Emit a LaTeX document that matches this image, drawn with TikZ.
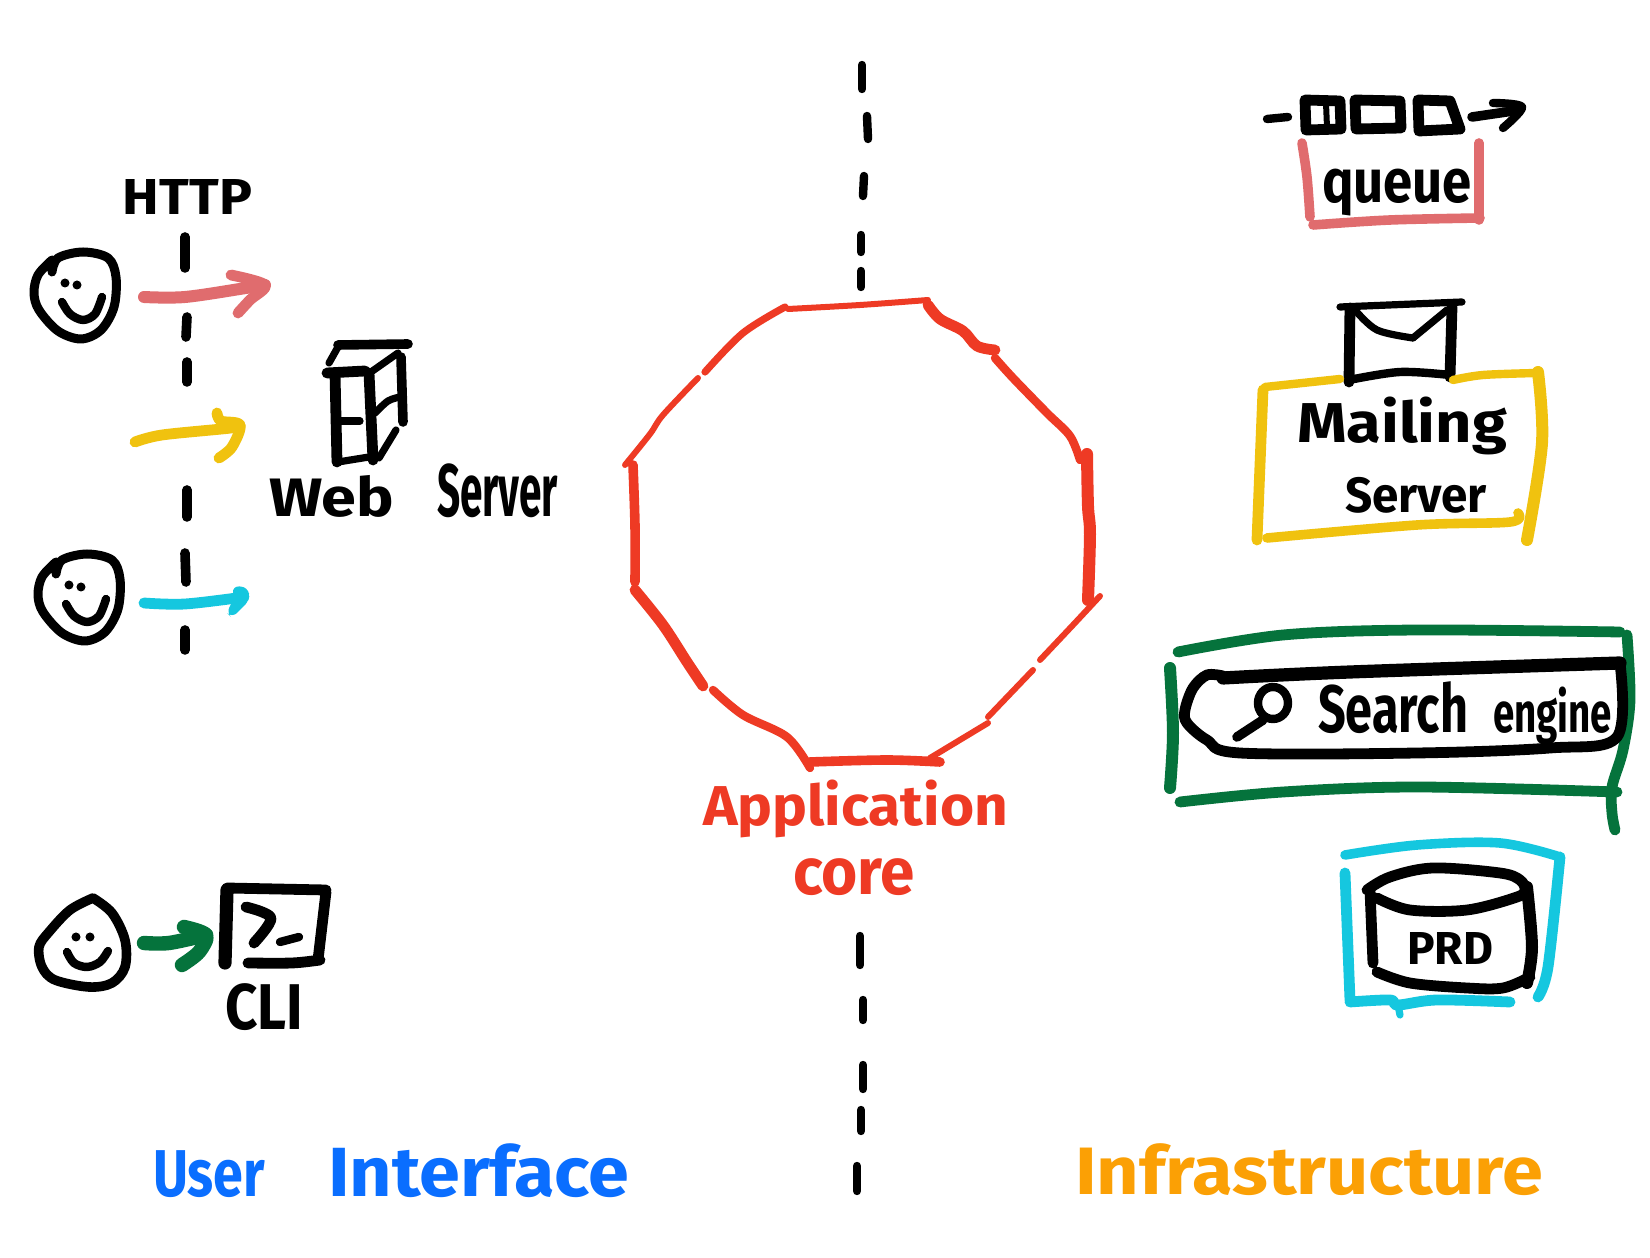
\documentclass[tikz,border=0pt]{standalone}
\usepackage{fontspec}
\usepackage{graphicx}
\setmainfont{Fira Sans}
\newlength{\pxu}\setlength{\pxu}{0.01cm}
\newcommand{\fitbox}[3]{\resizebox*{#1\pxu}{#2\pxu}{#3}}
\newcommand{\stroke}[2]{\draw[#1] plot[smooth,tension=.55] coordinates {#2};}
\definecolor{cpink}{HTML}{E06C6E}
\definecolor{cyellow}{HTML}{F0C20F}
\definecolor{ccyan}{HTML}{15C7DF}
\definecolor{cgreen}{HTML}{05733C}
\definecolor{cblue}{HTML}{0A6EFF}
\definecolor{corange}{HTML}{FBA005}
\definecolor{cred}{HTML}{EE3A24}
\tikzset{
  pen/.style={line cap=round,line join=round,line width=#1*0.012cm},
  pen/.default=8,
  ink/.style={pen=#1,black},
  ink/.default=8,
  hand/.style={inner sep=0pt,outer sep=0pt,anchor=base west,font=\bfseries},
  dashmark/.style={pen=8,black},
  midmark/.style={pen=7,black},
  ring/.style={pen=#1,cred},
  ring/.default=5,
  dot/.style={circle,fill=black,inner sep=0pt,minimum size=0.09cm}
}
\newcommand{\smiley}{%
  \stroke{ink=7.5}{(52,272)(58,258)(83,252)(108,258)(116,277)(114,307)(101,330)(81,339)(58,331)(39,310)(34,293)(38,275)(52,260)}
  \node[dot] at (65,283) {};
  \node[dot] at (77,285) {};
  \stroke{ink=7}{(62,302)(70,314)(83,320)(95,314)(102,297)}
}
\begin{document}
\begin{tikzpicture}[x=0.01cm,y=-0.01cm]
\useasboundingbox (0,0) rectangle (1650,1258);
\fill[white] (0,0) rectangle (1650,1258);

% central dashed divider
\foreach \a/\b in {{(862,65)}/{(862,89)},{(867,116)}/{(868,139)},{(864,176)}/{(863,196)},{(861,235)}/{(861,252)},{(861,271)}/{(861,287)},{(860,936)}/{(860,965)},{(863,1000)}/{(863,1020)},{(863,1065)}/{(863,1089)},{(861,1110)}/{(861,1131)},{(857,1166)}/{(857,1191)}}
  \draw[midmark] \a -- \b;

% left dashed divider
\foreach \a/\b in {{(185,237)}/{(185,268)},{(187,317)}/{(186,337)},{(187,362)}/{(187,382)},{(187,490)}/{(187,517)},{(185,553)}/{(186,582)},{(185,630)}/{(185,650)}}
  \draw[dashmark] \a -- \b;

% faces
\smiley
\begin{scope}[shift={(4,302)}]\smiley\end{scope}
\stroke{ink=8}{(93,898)(112,913)(125,940)(125,967)(112,983)(89,987)(55,980)(42,967)(39,947)(49,932)(70,910)(93,898)}
\node[dot] at (76,937) {};
\node[dot] at (90,937) {};
\stroke{ink=7}{(67,952)(74,963)(87,967)(100,962)(108,951)}

% arrows
\coordinate (pinkS) at (144,297); \coordinate (pinkT) at (265,285);
\stroke{pen=10,cpink}{(pinkS)(185,297)(246,288)(pinkT)}
\stroke{pen=9,cpink}{(231,275)(pinkT)(250,300)(238,313)}
\coordinate (yelS) at (135,442); \coordinate (yelT) at (240,425);
\stroke{pen=9,cyellow}{(yelS)(162,435)(231,428)(yelT)}
\stroke{pen=9,cyellow}{(217,413)(221,421)(yelT)(232,447)(219,458)}
\coordinate (cyaS) at (144,603); \coordinate (cyaT) at (244,597);
\stroke{pen=9,ccyan}{(cyaS)(185,604)(cyaT)}
\fill[ccyan,rounded corners=2pt] (232,586)--(248,587)--(250,600)--(232,618)--(226,612)--(234,600)--cycle;
\coordinate (grnS) at (144,943); \coordinate (grnT) at (206,935);
\stroke{pen=12,cgreen}{(grnS)(169,943)(grnT)}
\stroke{pen=12,cgreen}{(184,927)(grnT)(199,952)(182,965)}

% web server
\stroke{ink=8}{(338,345)(408,344)}
\stroke{ink=6}{(338,347)(329,363)}
\stroke{ink=9}{(327,373)(365,371)}
\stroke{ink=9}{(335,373)(337,462)}
\stroke{ink=9}{(369,373)(373,460)}
\stroke{ink=6}{(338,462)(369,457)}
\stroke{ink=6}{(338,421)(360,421)}
\stroke{ink=6}{(371,372)(398,353)}
\stroke{ink=8}{(401,357)(403,422)}
\stroke{ink=6}{(375,413)(388,401)(400,397)}
\stroke{ink=6}{(396,430)(379,458)}
\node[hand] (webserver) at (269,517) {\fitbox{125}{42}{Web}\hspace{43\pxu}\fitbox{121}{54}{Server}};
\node[hand] (http) at (123,215) {\fitbox{129}{35}{HTTP}};

% CLI
\stroke{ink=11}{(227,890)(225,963)}
\stroke{ink=9}{(227,888)(326,890)}
\stroke{ink=9}{(326,892)(318,960)}
\stroke{ink=9}{(320,960)(292,963)(248,963)}
\stroke{ink=9}{(246,907)(271,918)(254,943)}
\stroke{ink=7}{(280,942)(299,937)}
\node[hand] (cli) at (225,1030) {\fitbox{78}{47}{CLI}};

% application core ring
\stroke{ring=5}{(788,309)(860,305)(928,300)}
\stroke{ring=9}{(928,305)(940,319)(963,331)(977,346)(995,350)}
\stroke{ring=7}{(995,358)(1013,378)(1047,413)(1070,436)(1080,460)}
\stroke{ring=10}{(1087,454)(1088,506)(1090,534)(1088,600)}
\stroke{ring=5}{(1100,596)(1073,625)(1040,660)}
\stroke{ring=5}{(1033,670)(988,717)}
\stroke{ring=5}{(988,723)(930,758)}
\stroke{ring=8}{(940,762)(887,760)(810,762)}
\stroke{ring=7}{(810,768)(787,737)(743,715)(713,690)}
\stroke{ring=9}{(703,686)(687,662)(663,625)(635,590)}
\stroke{ring=8}{(635,582)(635,526)(633,465)}
\stroke{ring=5}{(625,465)(650,434)(663,415)(698,378)}
\stroke{ring=6}{(705,372)(743,333)(785,307)}
\node[hand,text=cred] (appcore1) at (703,826) {\fitbox{305}{58}{Application}};
\node[hand,text=cred] (appcore2) at (793,895) {\fitbox{122}{37}{core}};

% queue
\stroke{ink=7}{(1267,119)(1288,117)}
\draw[ink=9] (1305,100) -- (1340,101) -- (1341,129) -- (1306,130) -- cycle;
\draw[ink=5] (1326,103) -- (1327,127);
\draw[ink=9] (1355,100) -- (1400,101) -- (1401,128) -- (1356,129) -- cycle;
\draw[ink=9] (1418,100) -- (1450,101) -- (1460,129) -- (1419,131) -- cycle;
\stroke{ink=8}{(1472,117)(1520,110)}
\stroke{ink=7}{(1493,103)(1522,107)(1503,128)}
\node[hand] (queue) at (1322,203) {\fitbox{150}{47}{queue}};
\stroke{pen=8,cpink}{(1302,143)(1307,177)(1310,217)}
\stroke{pen=8,cpink}{(1313,225)(1390,220)(1480,218)}
\stroke{pen=8,cpink}{(1479,143)(1479,220)}

% mail
\stroke{ink=6}{(1340,307)(1462,302)}
\stroke{ink=9}{(1350,308)(1349,382)}
\stroke{ink=9}{(1452,307)(1450,377)}
\stroke{ink=7}{(1349,380)(1400,372)(1450,375)}
\stroke{ink=6}{(1355,310)(1377,330)(1413,338)}
\stroke{ink=6}{(1413,338)(1447,310)}
\stroke{pen=7,cyellow}{(1340,379)(1265,387)}
\stroke{pen=9,cyellow}{(1263,390)(1257,540)}
\stroke{pen=8,cyellow}{(1267,538)(1417,525)(1510,522)(1518,513)}
\stroke{pen=10,cyellow}{(1538,372)(1542,443)(1527,540)}
\stroke{pen=7,cyellow}{(1453,380)(1483,375)(1537,373)}
\node[hand] (mailing) at (1297,443) {\fitbox{210}{58}{Mailing}};
\node[hand] (mailserver) at (1345,513) {\fitbox{142}{36}{Server}};

% search engine
\stroke{pen=9,cgreen}{(1178,652)(1283,635)(1417,630)(1620,632)}
\stroke{pen=9,cgreen}{(1627,635)(1630,700)(1623,750)(1612,787)(1612,813)(1615,830)}
\stroke{pen=10,cgreen}{(1170,668)(1173,733)(1170,788)}
\stroke{pen=9,cgreen}{(1180,802)(1283,792)(1417,787)(1617,792)}
\stroke{ink=11}{(1223,678)(1350,672)(1620,663)}
\stroke{ink=9}{(1620,663)(1617,737)(1550,748)(1417,753)(1240,753)(1207,740)(1187,723)(1185,710)(1193,688)(1207,675)(1223,676)}
\draw[ink=7] (1273,703) ellipse [x radius=15,y radius=16];
\stroke{ink=8}{(1263,720)(1237,737)}
\node[hand] (search) at (1318,733) {\fitbox{150}{52}{Search}\hspace{25\pxu}\fitbox{119}{58}{engine}};

% database
\stroke{pen=8,ccyan}{(1345,855)(1417,845)(1500,843)(1560,857)}
\stroke{pen=9,ccyan}{(1560,857)(1548,967)(1538,997)}
\stroke{pen=9,ccyan}{(1345,873)(1350,1000)}
\stroke{pen=9,ccyan}{(1350,1002)(1390,1000)(1398,1005)(1437,1000)(1510,1002)}
\stroke{pen=6,ccyan}{(1398,1005)(1400,1015)}
\stroke{ink=9}{(1367,890)(1390,877)(1433,868)(1500,873)(1520,880)(1525,890)(1517,897)(1467,910)(1410,910)(1377,898)}
\stroke{ink=9}{(1370,890)(1373,963)}
\stroke{ink=10}{(1527,887)(1532,947)(1527,983)}
\stroke{ink=9}{(1377,972)(1410,983)(1467,988)(1503,988)(1530,977)}
\node[hand] (prd) at (1407,965) {\fitbox{86}{32}{PRD}};

% section titles
\node[hand,text=cblue] (ui) at (153,1197) {\fitbox{112}{47}{User}\hspace{63\pxu}\fitbox{301}{54}{Interface}};
\node[hand,text=corange] (infra) at (1075,1195) {\fitbox{468}{52}{Infrastructure}};
\end{tikzpicture}
\end{document}
